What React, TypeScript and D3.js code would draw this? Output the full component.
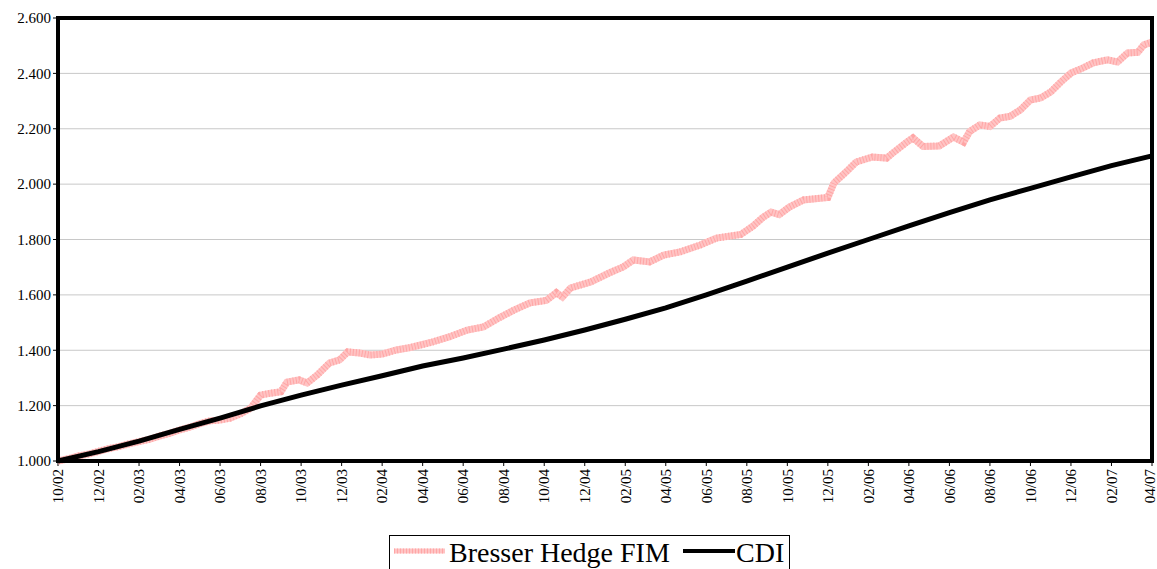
import React from 'react';
import * as d3 from 'd3';

// month index 0 = 10/02, 54 = 04/07
const tickLabels = ['10/02', '12/02', '02/03', '04/03', '06/03', '08/03', '10/03', '12/03', '02/04', '04/04',
  '06/04', '08/04', '10/04', '12/04', '02/05', '04/05', '06/05', '08/05', '10/05', '12/05', '02/06', '04/06',
  '06/06', '08/06', '10/06', '12/06', '02/07', '04/07'];

const yTicks = [1000, 1200, 1400, 1600, 1800, 2000, 2200, 2400, 2600];

const fundMonths = [0, 0.5, 1, 1.5, 2, 2.5, 3, 3.5, 4, 4.5, 5, 5.5, 6, 6.5, 7, 7.5, 8, 8.5, 9, 9.5, 10, 10.5, 11,
  11.3, 11.9, 12.3, 12.8, 13.4, 13.9, 14.3, 14.9, 15.4, 16, 16.7, 17.4, 18.4, 19.3, 20.2, 21, 21.8, 22.5, 23.3,
  24.1, 24.6, 24.9, 25.3, 26.3, 27.2, 27.9, 28.4, 29.2, 29.9, 30.7, 31.7, 32.5, 33.7, 34.3, 34.8, 35.2, 35.6,
  36.1, 36.8, 38, 38.3, 38.9, 39.4, 40.2, 40.9, 41.2, 41.9, 42.2, 42.7, 43.5, 44.2, 44.7, 45, 45.5, 46, 46.5,
  47, 47.5, 48, 48.5, 49, 49.5, 50, 50.6, 51.1, 51.8, 52.3, 52.8, 53.3, 53.6, 54];
const fundValues = [1000, 1008, 1018, 1025, 1035, 1045, 1052, 1062, 1070, 1078, 1090, 1100, 1112, 1122, 1135,
  1145, 1148, 1155, 1170, 1190, 1238, 1245, 1250, 1285, 1293, 1282, 1311, 1354, 1365, 1394, 1390, 1383, 1386,
  1401, 1410, 1428, 1448, 1473, 1484, 1518, 1545, 1571, 1580, 1608, 1592, 1625, 1647, 1679, 1701, 1726, 1719,
  1744, 1755, 1780, 1805, 1818, 1848, 1880, 1899, 1890, 1917, 1943, 1952, 2004, 2044, 2080, 2098, 2094, 2112,
  2152, 2167, 2136, 2138, 2170, 2152, 2190, 2214, 2208, 2239, 2245, 2268, 2304, 2311, 2333, 2369, 2401, 2420,
  2438, 2449, 2441, 2474, 2476, 2503, 2513];

const cdiMonths = [0, 2, 4, 6, 8, 10, 12, 14, 16, 18, 20, 22, 24, 26, 28, 30, 32, 34, 36, 38, 40, 42, 44, 46,
  48, 50, 52, 54];
const cdiValues = [1000, 1034, 1072, 1114, 1155, 1199, 1238, 1274, 1308, 1343, 1372, 1404, 1437, 1473, 1512,
  1553, 1600, 1650, 1700, 1751, 1800, 1849, 1897, 1943, 1985, 2026, 2067, 2102];

const W = 1157;
const H = 569;
const m = { left: 58, right: 1152, top: 18, bottom: 461 };
const font = '"Liberation Serif", "Times New Roman", serif';

export default function App() {
  const x = d3.scaleLinear().domain([0, 54]).range([m.left, m.right]);
  const y = d3.scaleLinear().domain([1000, 2600]).range([m.bottom, m.top]);

  const fund = fundMonths.map((mm, i) => [mm, fundValues[i]] as [number, number]);
  const cdi = cdiMonths.map((mm, i) => [mm, cdiValues[i]] as [number, number]);
  const line = d3.line<[number, number]>().x(d => x(d[0])).y(d => y(d[1]));

  return (
    <svg width={W} height={H} style={{ position: 'absolute', left: 0, top: 0, background: '#fff' }}
      fontFamily={font}>
      {yTicks.map(t => (
        <g key={t}>
          {t > 1000 && t < 2600 && (
            <line x1={m.left} x2={m.right} y1={y(t)} y2={y(t)} stroke="#c8c8c8" strokeWidth={1} />
          )}
          <line x1={m.left - 5} x2={m.left} y1={y(t)} y2={y(t)} stroke="#000" strokeWidth={1} />
          <text x={m.left - 7} y={y(t)} dy="0.35em" textAnchor="end" fontSize={15} fill="#000">
            {(t / 1000).toFixed(3)}
          </text>
        </g>
      ))}
      {tickLabels.map((lab, i) => {
        const xx = x(i * 2);
        return (
          <g key={lab}>
            <line x1={xx} x2={xx} y1={m.bottom} y2={m.bottom + 5} stroke="#000" strokeWidth={1} />
            <text transform={`translate(${Math.min(xx, 1150)},${m.bottom + 8}) rotate(-90)`} dy="0.35em"
              textAnchor="end" fontSize={15} fill="#000">{lab}</text>
          </g>
        );
      })}
      <path d={line(fund) || ''} fill="none" stroke="#ffc4c4" strokeWidth={7} />
      <path d={line(fund) || ''} fill="none" stroke="#ffa6a6" strokeWidth={7} strokeDasharray="1 2" />
      <path d={line(cdi) || ''} fill="none" stroke="#000" strokeWidth={5} />
      <rect x={m.left} y={m.top} width={m.right - m.left} height={m.bottom - m.top} fill="none"
        stroke="#000" strokeWidth={4} />
      <g>
        <rect x={389.5} y={535.5} width={400} height={40} fill="#fff" stroke="#000" strokeWidth={1} />
        <line x1={394} x2={445} y1={551} y2={551} stroke="#ffc4c4" strokeWidth={5} />
        <line x1={394} x2={445} y1={551} y2={551} stroke="#ffa6a6" strokeWidth={5} strokeDasharray="1 2" />
        <text x={449} y={562} fontSize={28} fill="#000">Bresser Hedge FIM</text>
        <line x1={683} x2={735} y1={551} y2={551} stroke="#000" strokeWidth={4} />
        <text x={736} y={562} fontSize={28} fill="#000">CDI</text>
      </g>
    </svg>
  );
}
